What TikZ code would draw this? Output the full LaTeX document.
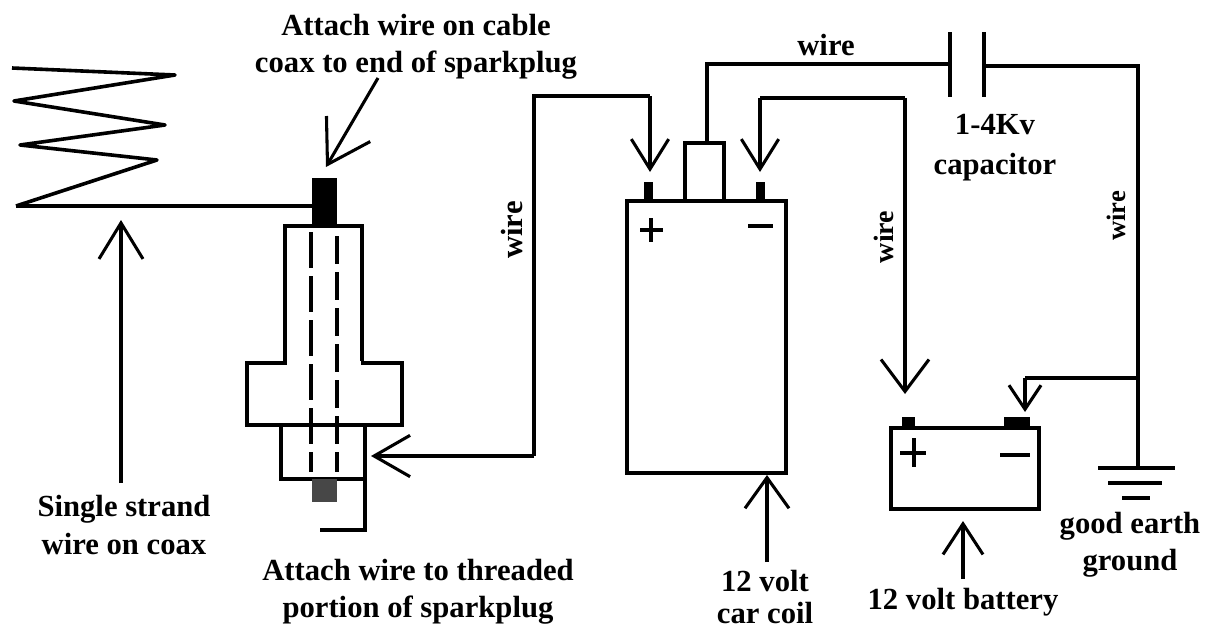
\documentclass[tikz,border=0pt]{standalone}
\usepackage{fontspec}
\setmainfont{Liberation Serif}
\usetikzlibrary{arrows.meta}
\newcommand{\pxbox}[6]{\node[#6,minimum width={(#4-#2)*0.75pt},minimum height={(#5-#3)*0.75pt}] (#1) at ({(#2+#4)/2},{(#3+#5)/2}) {};}
\tikzset{
  x=0.75pt,y=-0.75pt,
  wirel/.style={line width=2.3pt,black,line cap=butt,line join=miter},
  arrowed/.style 2 args={wirel,-{Straight Barb[length=#1,width=#2,line width=2.3pt]}},
  outline/.style={draw=black,line width=2.3pt,fill=white,inner sep=0pt,outer sep=0pt},
  solidbox/.style={draw=none,fill=black,inner sep=0pt,outer sep=0pt},
  graybox/.style={draw=none,fill=black!72,inner sep=0pt,outer sep=0pt},
  dashwire/.style={line width=2.3pt,black,dash pattern=on 27pt off 6pt},
  label/.style={font=\fontsize{23pt}{28pt}\selectfont\bfseries,align=center,inner sep=0pt},
  signl/.style={line width=2.3pt,black}
}
\begin{document}
\begin{tikzpicture}
\useasboundingbox (0,0) rectangle (1211,628);
% spark plug
\pxbox{upper}{285}{226}{362}{363}{outline}
\pxbox{flange}{247}{363}{402}{425}{outline}
\pxbox{lower}{281}{425}{365}{479}{outline}
\fill[white] (286.5,361) rectangle (360.5,366);
\pxbox{cap}{312}{178}{337}{226}{solidbox}
\pxbox{tip}{312}{479}{337}{502}{graybox}
\coordinate (dl1) at (311,232); \coordinate (dl2) at (311,472);
\coordinate (dr1) at (337,236); \coordinate (dr2) at (337,472);
\draw[dashwire] (dl1) -- (dl2);
\draw[dashwire,dash pattern=on 21pt off 6pt] (dr1) -- (dr2);
% threaded wire stub
\coordinate (st1) at (365,479); \coordinate (st2) at (365,530); \coordinate (st3) at (320,530);
\draw[wirel] (st1) -- (st2) -- (st3);
% antenna
\coordinate (z0) at (12,68); \coordinate (z1) at (175,75); \coordinate (z2) at (14,101);
\coordinate (z3) at (165,125); \coordinate (z4) at (20,145); \coordinate (z5) at (157,160);
\coordinate (z6) at (16,206);
\draw[wirel,line width=2.7pt,line join=round] (z0) -- (z1) -- (z2) -- (z3) -- (z4) -- (z5) -- (z6);
\draw[wirel] (z6) -- (cap.west |- z6);
% coil
\pxbox{coil}{627}{201}{786}{473}{outline}
\pxbox{coilp}{644}{182}{653}{201}{solidbox}
\pxbox{coiln}{756}{182}{765}{201}{solidbox}
\pxbox{hv}{685}{143}{724}{201}{outline}
% capacitor
\coordinate (c1a) at (950,32); \coordinate (c1b) at (950,97);
\coordinate (c2a) at (984,32); \coordinate (c2b) at (984,97);
\draw[wirel] (c1a) -- (c1b);
\draw[wirel] (c2a) -- (c2b);
% battery
\pxbox{batt}{891}{428}{1039}{509}{outline}
\pxbox{battp}{902}{417}{915}{428}{solidbox}
\pxbox{battn}{1004}{417}{1030}{428}{solidbox}
% ground
\coordinate (g0) at (1138,468);
\coordinate (g1a) at (1098,468); \coordinate (g1b) at (1175,468);
\coordinate (g2a) at (1108,483); \coordinate (g2b) at (1162,483);
\coordinate (g3a) at (1122,498); \coordinate (g3b) at (1150,498);
\draw[wirel] (g1a) -- (g1b);
\draw[wirel] (g2a) -- (g2b);
\draw[wirel] (g3a) -- (g3b);
% wires
\coordinate (a1t) at (650,172); \coordinate (a1c) at (650,96); \coordinate (a1d) at (534,96);
\coordinate (a1e) at (534,456); \coordinate (a1f) at (371,456);
\draw[arrowed={22.5pt}{28pt}] (a1c) -- (a1t);
\draw[arrowed={27pt}{31pt}] (a1e) -- (a1f);
\draw[wirel] (a1c) -- (a1d) -- (a1e);
\coordinate (hvup) at (707,64); \coordinate (capl) at (950,64);
\draw[wirel] (hvup |- hv.north) -- (hvup) -- (capl);
\coordinate (capr) at (984,66); \coordinate (corner) at (1138,66); \coordinate (junc) at (1138,378);
\draw[wirel] (capr) -- (corner) -- (g0);
\coordinate (a2t) at (760,172); \coordinate (a2c) at (760,98); \coordinate (a2d) at (905,98); \coordinate (a2e) at (905,394);
\draw[arrowed={22.5pt}{28pt}] (a2c) -- (a2t);
\draw[wirel] (a2c) -- (a2d);
\draw[arrowed={24pt}{36pt}] (a2d) -- (a2e);
\coordinate (a3c) at (1025,378); \coordinate (a3t) at (1025,412);
\draw[wirel] (junc) -- (a3c);
\draw[arrowed={18pt}{24pt}] (a3c) -- (a3t);
% pointer arrows
\coordinate (p1a) at (378,78); \coordinate (p1t) at (326,167);
\draw[arrowed={31pt}{38pt}] (p1a) -- (p1t);
\coordinate (p2a) at (121,483); \coordinate (p2t) at (121,220);
\draw[arrowed={27pt}{33pt}] (p2a) -- (p2t);
\coordinate (p3a) at (767,562); \coordinate (p3t) at (767,475);
\draw[arrowed={23pt}{33pt}] (p3a) -- (p3t);
\coordinate (p4a) at (963,579); \coordinate (p4t) at (963,521);
\draw[arrowed={23pt}{30pt}] (p4a) -- (p4t);
% signs
\draw[signl] (640,230) -- (663,230) (651,218) -- (651,242);
\draw[signl] (748,226) -- (773,226);
\draw[signl] (900,453) -- (926,453) (914,438) -- (914,467);
\draw[signl] (1000,455) -- (1030,455);
% labels
\node[label] (t1) at (416,47) {Attach wire on cable\\coax to end of sparkplug};
\node[label] (t2) at (124,525) {Single strand\\wire on coax};
\node[label] (t3) at (418,592) {Attach wire to threaded\\portion of sparkplug};
\node[label] (t4) at (826,45) {wire};
\node[label,rotate=90] (t5) at (512,230) {wire};
\node[label,rotate=90,font=\fontsize{21pt}{28pt}\selectfont\bfseries] (t6) at (884,237) {wire};
\node[label,rotate=90,font=\fontsize{20pt}{28pt}\selectfont\bfseries] (t7) at (1116,216) {wire};
\node[label,font=\fontsize{23pt}{30pt}\selectfont\bfseries] (t8) at (995,148) {1-4Kv\\capacitor};
\node[label,font=\fontsize{23pt}{24pt}\selectfont\bfseries] (t9) at (765,597) {12 volt\\car coil};
\node[label] (t10) at (963,602) {12 volt battery};
\node[label] (t11) at (1130,545) {good earth\\ground};
\end{tikzpicture}
\end{document}
